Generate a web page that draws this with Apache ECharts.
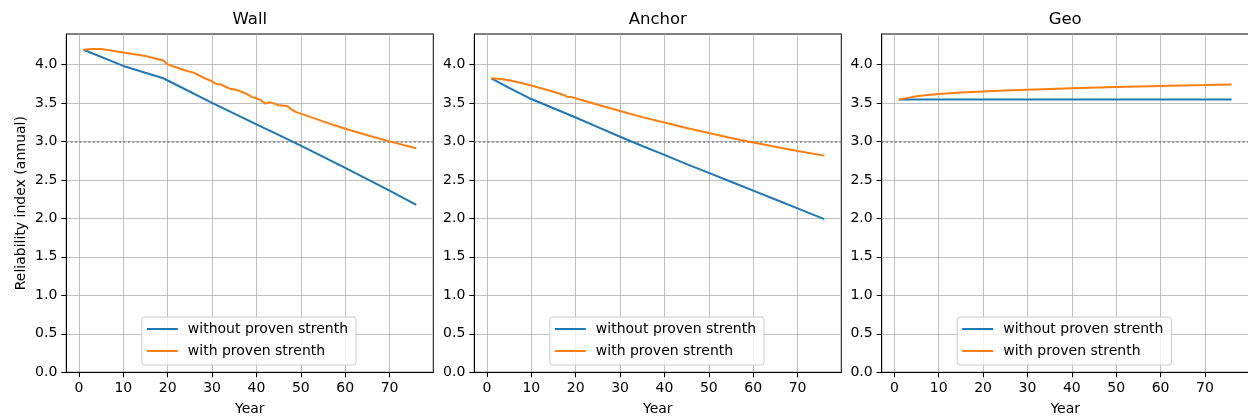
<!DOCTYPE html>
<html><head><meta charset="utf-8">
<script src="https://cdn.jsdelivr.net/npm/echarts@6/dist/echarts.min.js"></script>
<style>html,body{margin:0;padding:0;background:#fff}#c{width:1248px;height:416px}</style>
</head><body><div id="c"></div>
<script>
// ---- data ----
const panelTitles = ['Wall', 'Anchor', 'Geo'];
const seriesNames = ['without proven strenth', 'with proven strenth'];
const xTicks = [0, 10, 20, 30, 40, 50, 60, 70];
const yTicks = [0, 0.5, 1.0, 1.5, 2.0, 2.5, 3.0, 3.5, 4.0];
const targetBeta = 3.0;

const wallWithoutYears = [1, 10, 19, 30, 40, 42, 43, 50, 60, 70, 76];
const wallWithoutVals  = [4.19, 3.98, 3.82, 3.50, 3.22, 3.165, 3.14, 2.945, 2.655, 2.36, 2.175];

const wallWithYears = [1, 3, 5, 10, 15, 19, 20, 22, 24, 26, 28, 30, 31, 32, 33, 34, 35, 36, 37, 38, 39, 40, 41, 42, 43, 44, 45, 46, 47, 48, 49, 50, 55, 60, 65, 70, 76];
const wallWithVals  = [4.19, 4.20, 4.20, 4.155, 4.11, 4.05, 4.00, 3.96, 3.92, 3.89, 3.83, 3.78, 3.745, 3.74, 3.71, 3.685, 3.675, 3.66, 3.635, 3.61, 3.575, 3.56, 3.535, 3.49, 3.51, 3.49, 3.47, 3.465, 3.455, 3.41, 3.38, 3.36, 3.26, 3.165, 3.08, 3.00, 2.91];

const anchorWithoutYears = [1, 5, 10, 15, 20, 25, 30, 35, 40, 45, 50, 55, 60, 65, 70, 76];
const anchorWithoutVals  = [3.82, 3.695, 3.55, 3.43, 3.31, 3.185, 3.06, 2.94, 2.825, 2.705, 2.59, 2.475, 2.36, 2.245, 2.13, 1.99];

const anchorWithYears = [1, 3, 5, 8, 10, 15, 17.5, 18, 19, 20, 25, 30, 35, 40, 45, 50, 55, 60, 65, 70, 76];
const anchorWithVals  = [3.82, 3.81, 3.795, 3.755, 3.725, 3.645, 3.60, 3.58, 3.578, 3.56, 3.475, 3.395, 3.315, 3.245, 3.175, 3.11, 3.045, 2.985, 2.93, 2.875, 2.815];

const geoWithoutYears = [1, 76];
const geoWithoutVals  = [3.545, 3.545];

const geoWithYears = [1, 3, 5, 7, 10, 15, 20, 25, 30, 40, 50, 60, 70, 76];
const geoWithVals  = [3.545, 3.565, 3.585, 3.60, 3.617, 3.635, 3.648, 3.661, 3.672, 3.69, 3.706, 3.72, 3.731, 3.738];

// ---- layout / style ----
const FONT = 'DejaVu Sans';
const gridLefts = [66.3, 474.3, 881.7];
const gridW = 367, gridTop = 34, gridH = 338.3;
const colors = ['#1f77b4', '#ff7f0e'];

const panels = [
  [[wallWithoutYears, wallWithoutVals], [wallWithYears, wallWithVals]],
  [[anchorWithoutYears, anchorWithoutVals], [anchorWithYears, anchorWithVals]],
  [[geoWithoutYears, geoWithoutVals], [geoWithYears, geoWithVals]]
];

const zip = (xs, ys) => xs.map((x, i) => [x, ys[i]]);

const option = {
  animation: false,
  backgroundColor: '#fff',
  textStyle: { fontFamily: FONT },
  title: panelTitles.map((t, i) => ({
    text: t, left: gridLefts[i] + gridW / 2, top: 11, textAlign: 'center', padding: 0,
    textStyle: { fontFamily: FONT, fontSize: 16.5, fontWeight: 'normal', color: '#000' }
  })),
  legend: panelTitles.map((t, i) => ({
    data: seriesNames, orient: 'vertical',
    left: gridLefts[i] + gridW / 2 - 108, top: 317,
    padding: [5, 8, 7, 4], itemGap: 8, itemWidth: 31, itemHeight: 14,
    backgroundColor: 'rgba(255,255,255,0.8)', borderColor: '#cccccc', borderWidth: 1, borderRadius: 3,
    itemStyle: { opacity: 0 },
    lineStyle: { width: 2 },
    textStyle: { fontFamily: FONT, fontSize: 14, color: '#000', padding: [0, 0, 0, 5] },
    selectedMode: false
  })),
  grid: gridLefts.map(l => ({
    left: l, top: gridTop, width: gridW, height: gridH,
    containLabel: false, outerBoundsMode: 'none',
    show: true, borderColor: '#000', borderWidth: 1, backgroundColor: 'transparent'
  })),
  xAxis: gridLefts.map((l, i) => ({
    type: 'value', gridIndex: i, min: -2.85, max: 79.85,
    name: 'Year', nameLocation: 'middle', nameGap: 30,
    nameTextStyle: { fontFamily: FONT, fontSize: 14, color: '#000' },
    axisLine: { show: true, onZero: false, lineStyle: { color: '#000', width: 1 } },
    axisTick: { show: true, length: 5, customValues: xTicks, lineStyle: { color: '#000', width: 1 } },
    axisLabel: { customValues: xTicks, margin: 9, fontFamily: FONT, fontSize: 14, color: '#000' },
    splitLine: { show: true, lineStyle: { color: '#b0b0b0', width: 0.8 } }
  })),
  yAxis: gridLefts.map((l, i) => ({
    type: 'value', gridIndex: i, min: 0, max: 4.395,
    name: i === 0 ? 'Reliability index (annual)' : '', nameLocation: 'middle', nameGap: 38,
    nameTextStyle: { fontFamily: FONT, fontSize: 14, color: '#000' },
    axisLine: { show: true, onZero: false, lineStyle: { color: '#000', width: 1 } },
    axisTick: { show: true, length: 5, customValues: yTicks, lineStyle: { color: '#000', width: 1 } },
    axisLabel: { customValues: yTicks, margin: 9, fontFamily: FONT, fontSize: 14, color: '#000',
      formatter: v => v.toFixed(1) },
    splitLine: { show: true, lineStyle: { color: '#b0b0b0', width: 0.8 } }
  })),
  series: []
};

panels.forEach((p, i) => {
  p.forEach((d, j) => {
    const s = {
      type: 'line', name: seriesNames[j], xAxisIndex: i, yAxisIndex: i,
      data: zip(d[0], d[1]), symbol: 'none', showSymbol: false, smooth: false,
      lineStyle: { color: colors[j], width: 2 }, itemStyle: { color: colors[j] },
      z: 3 + j
    };
    if (j === 0) {
      s.markLine = {
        silent: true, symbol: ['none', 'none'], label: { show: false },
        lineStyle: { type: [2, 2.4], color: '#808080', width: 1.5 },
        data: [{ yAxis: targetBeta }], z: 2
      };
    }
    option.series.push(s);
  });
});

const chart = echarts.init(document.getElementById('c'), null, { renderer: 'canvas' });
chart.setOption(option);
</script>
</body></html>
